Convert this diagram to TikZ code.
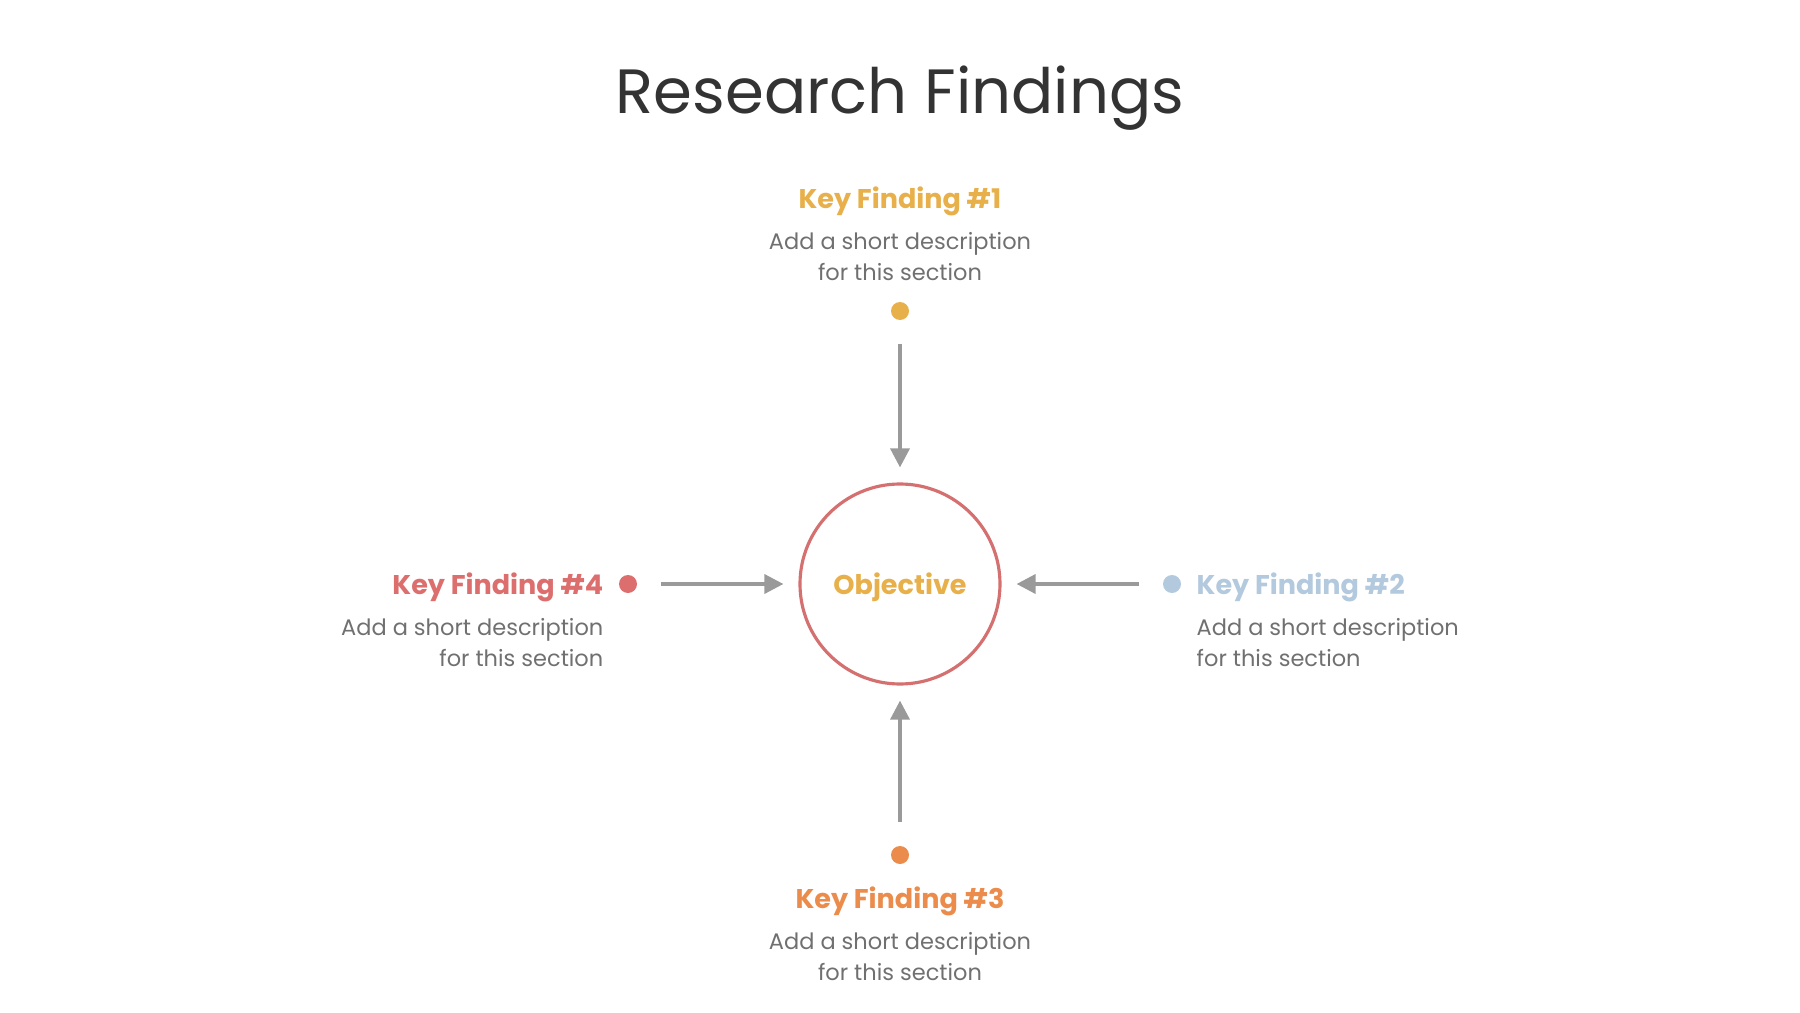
\documentclass[tikz,border=0pt]{standalone}
\usepackage{fontspec}
\setmainfont{Poppins}
\usepackage{xcolor}
\usetikzlibrary{shapes,arrows.meta}
\definecolor{titlegrey}{HTML}{333333}
\definecolor{descgrey}{HTML}{707070}
\definecolor{arrowgrey}{HTML}{9A9A9A}
\definecolor{kfone}{HTML}{E8B04A}
\definecolor{kftwo}{HTML}{B3C9DE}
\definecolor{kfthree}{HTML}{EB8C4C}
\definecolor{kffour}{HTML}{DC6E6E}
\definecolor{ringred}{HTML}{D4706F}
\tikzstyle{line} = [draw=arrowgrey, line width=1pt, -{Triangle[length=0.19cm,width=0.19cm]}, shorten <=0.23cm, shorten >=0.15cm]
\tikzstyle{dot} = [circle, inner sep=0pt, minimum size=0.18cm]
\tikzstyle{kf} = [font=\fontsize{7.7}{9}\selectfont\bfseries, inner sep=0pt]
\tikzstyle{desc} = [font=\fontsize{6.4}{8.8}\selectfont, text=descgrey, inner sep=0pt]

\begin{document}
\begin{tikzpicture}
\useasboundingbox (0,0) rectangle (18,10.12);
\node[text=titlegrey, font=\fontsize{17.8}{20}\selectfont] (title) at (9,9.14) {Research Findings};
%
\node[circle, draw=ringred, line width=0.9pt, minimum size=2cm, inner sep=0pt, text depth=0pt,
      text=kfone, font=\fontsize{7.7}{9}\selectfont\bfseries] (obj) at (9,4.28) {Objective};
%
\node[dot, fill=kfone] (d1) at (9,7.01) {};
\node[kf, text=kfone] (k1) at (9,8.11) {Key Finding \#1};
\node[desc, align=center] (t1) at (9,7.555) {Add a short description\\for this section};
%
\node[dot, fill=kftwo] (d2) at (11.72,4.28) {};
\node[kf, text=kftwo, anchor=west] (k2) at (11.96,4.245) {Key Finding \#2};
\node[desc, align=left, anchor=west] (t2) at (11.96,3.695) {Add a short description\\for this section};
%
\node[dot, fill=kfthree] (d3) at (9,1.57) {};
\node[kf, text=kfthree] (k3) at (9,1.105) {Key Finding \#3};
\node[desc, align=center] (t3) at (9,0.555) {Add a short description\\for this section};
%
\node[dot, fill=kffour] (d4) at (6.28,4.28) {};
\node[kf, text=kffour, anchor=east] (k4) at (6.04,4.245) {Key Finding \#4};
\node[desc, align=right, anchor=east] (t4) at (6.04,3.695) {Add a short description\\for this section};
%
\path[line] (d1) -- (obj);
\path[line] (d2) -- (obj);
\path[line] (d3) -- (obj);
\path[line] (d4) -- (obj);
\end{tikzpicture}
\end{document}
